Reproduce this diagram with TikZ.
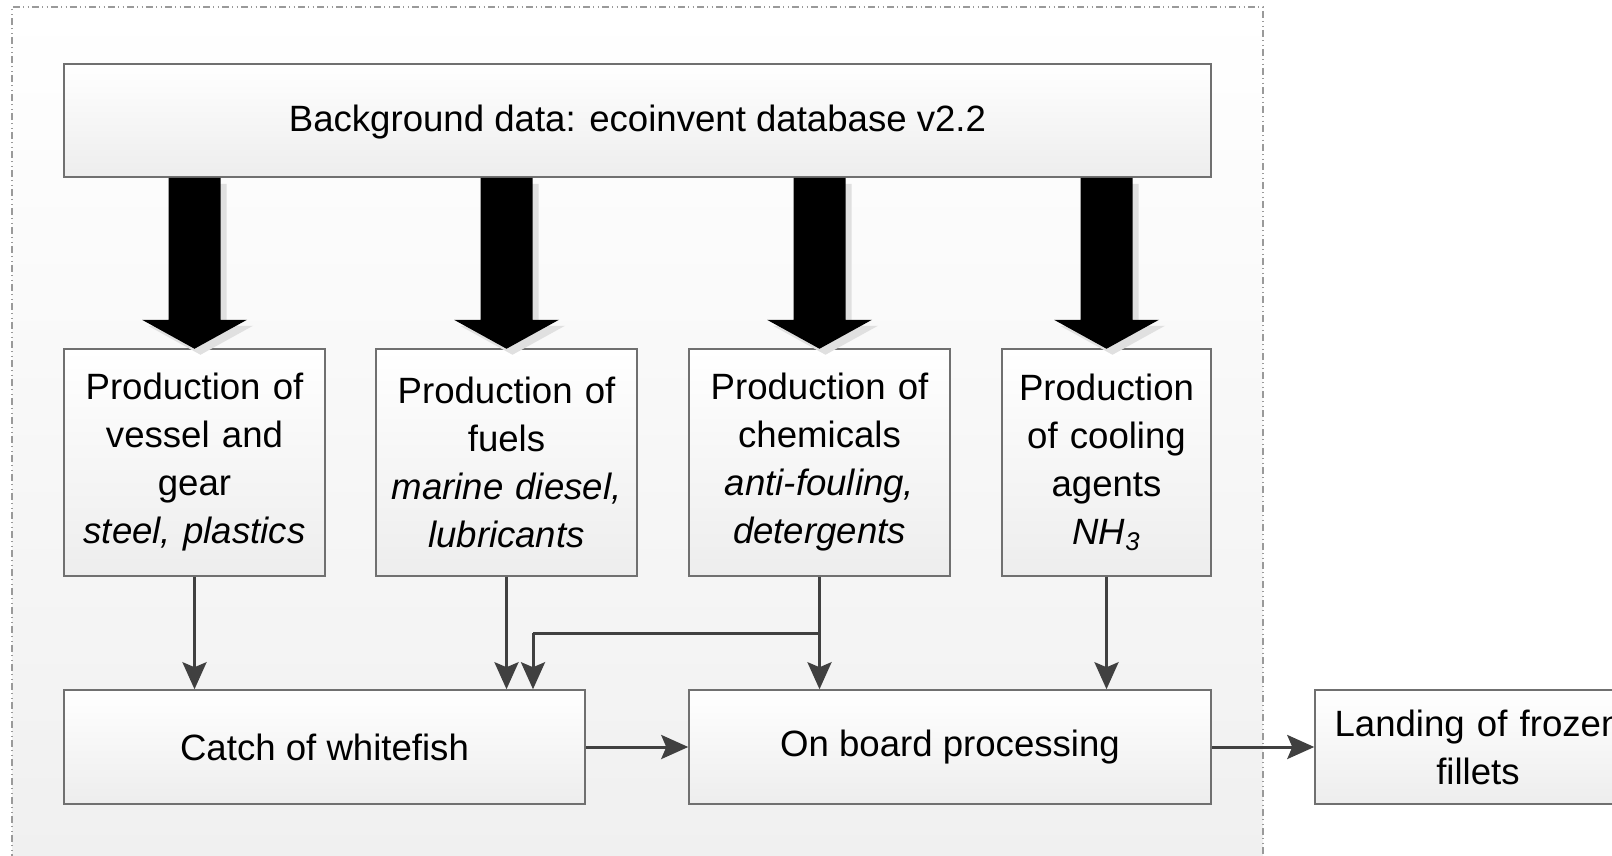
\documentclass[tikz,border=0pt]{standalone}
\usepackage{fontspec}
\setmainfont{Liberation Sans}
\usetikzlibrary{arrows.meta,calc}
\definecolor{linegray}{HTML}{404040}
\definecolor{boxedge}{HTML}{707070}
\definecolor{framegray}{HTML}{9A9A9A}
\tikzset{
  box/.style={draw=boxedge, line width=0.75pt, shading=axis, top color=white,
    bottom color=black!7, align=center, inner sep=0pt,
    font=\fontsize{18.3pt}{24pt}\selectfont},
  conn/.style={draw=linegray, line width=1.5pt,
    -{Stealth[length=13.5pt,width=12pt,inset=2.5pt]}},
  feed/.style={draw=linegray, line width=1.5pt},
  bigarrow/.style={fill=black},
  bigshadow/.style={fill=black!12},
}
\begin{document}
\begin{tikzpicture}[x=0.5pt,y=-0.5pt]
\useasboundingbox (0,0) rectangle (1612,856);

% system boundary
\path[shading=axis, top color=white, bottom color=black!6] (12,7) rectangle (1263,880);
\draw[framegray, line width=0.6pt,
  dash pattern=on 3.5pt off 1.6pt on 0.6pt off 1.6pt on 0.6pt off 1.6pt]
  (12,880) -- (12,7) -- (1263,7) -- (1263,880);

% background data
\node[box, minimum width=573.5pt, minimum height=56.5pt, text height=15pt, text depth=3.5pt]
  (bg) at (637.5,120.5) {Background data: ecoinvent database v2.2};

% production processes
\node[box, minimum width=130.5pt, minimum height=113.5pt, text width=126pt] (p1) at (194.5,462.5)
  {Production of\\vessel and\\gear\\\textit{steel, plastics}};
\node[box, minimum width=130.5pt, minimum height=113.5pt, text width=126pt] (p2) at (506.5,462.5)
  {Production of\\fuels\\\textit{marine diesel,}\\\textit{lubricants}};
\node[box, minimum width=130.5pt, minimum height=113.5pt, text width=126pt] (p3) at (819.5,462.5)
  {Production of\\chemicals\\\textit{anti-fouling,}\\\textit{detergents}};
\node[box, minimum width=104.5pt, minimum height=113.5pt, text width=100pt] (p4) at (1106.5,462.5)
  {Production\\of cooling\\agents\\\textit{NH\textsubscript{3}}};

% foreground processes
\node[box, minimum width=260.5pt, minimum height=57pt] (catch) at (324.5,747)
  {Catch of whitefish};
\node[box, minimum width=261pt, minimum height=57pt] (onboard) at (950,747)
  {On board processing};
\node[box, minimum width=163pt, minimum height=57pt, text width=150pt] (landing) at (1478,747)
  {Landing of frozen\\fillets};

% inputs from the background database
\foreach \p in {p1,p2,p3,p4}{
  \coordinate (t) at (\p.north |- bg.south);
  \fill[bigshadow] ($(t)+(6,6)$) ++(-26,0) -- ++(52,0) -- ++(0,142) -- ++(26.5,0)
    -- ++(-52.5,29) -- ++(-52.5,-29) -- ++(26.5,0) -- cycle;
  \fill[bigarrow] (t) ++(-26,0) -- ++(52,0) -- ++(0,142) -- ++(26.5,0)
    -- ++(-52.5,29) -- ++(-52.5,-29) -- ++(26.5,0) -- cycle;
}

% material flows
\draw[conn] (p1.south) -- (p1.south |- catch.north);
\draw[conn] (p2.south) -- (p2.south |- catch.north);
\draw[conn] (p3.south) -- (p3.south |- onboard.north);
\coordinate (split) at (p3.south |- 0,633);
\coordinate (bend) at (533,633);
\draw[feed] (split) -- (bend);
\draw[conn] (bend) -- (bend |- catch.north);
\draw[conn] (p4.south) -- (p4.south |- onboard.north);
\draw[conn] (catch.east) -- (onboard.west);
\draw[conn] (onboard.east) -- (landing.west);
\end{tikzpicture}
\end{document}
